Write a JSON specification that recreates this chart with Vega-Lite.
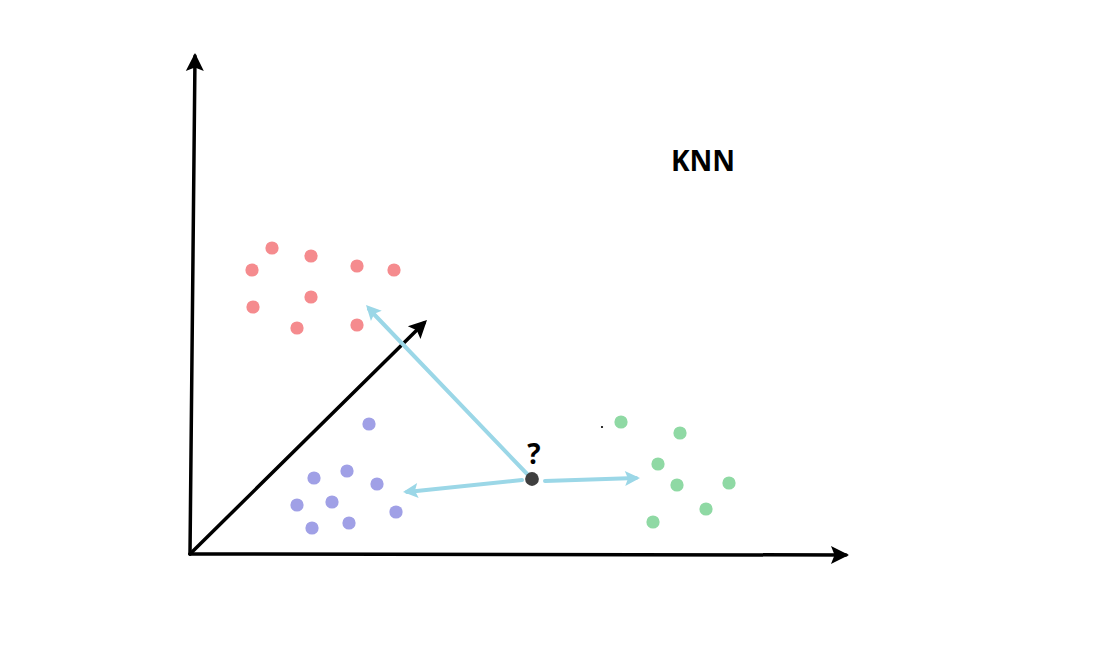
{
  "$schema": "https://vega.github.io/schema/vega-lite/v6.json",
  "width": 1099,
  "height": 666,
  "autosize": {"type": "fit", "contains": "padding"},
  "padding": 0,
  "background": "white",
  "config": {"view": {"stroke": null}, "font": "Open Sans"},
  "resolve": {"scale": {"size": "independent", "strokeWidth": "independent"}},
  "datasets": {
    "segments": [
      {"x": 190, "y": 554, "x2": 195, "y2": 56, "kind": "axis"},
      {"x": 190, "y": 554, "x2": 846, "y2": 555, "kind": "axis"},
      {"x": 190, "y": 554, "x2": 424, "y2": 323, "kind": "axis"},
      {"x": 530, "y": 477, "x2": 369, "y2": 309, "kind": "distance"},
      {"x": 522, "y": 480, "x2": 407, "y2": 492, "kind": "distance"},
      {"x": 545, "y": 481, "x2": 636, "y2": 478, "kind": "distance"}
    ],
    "heads": [
      {"x": 195, "y": 53, "angle": 0.6, "kind": "axis"},
      {"x": 849, "y": 555, "angle": 90.1, "kind": "axis"},
      {"x": 427, "y": 320, "angle": 45.4, "kind": "axis"},
      {"x": 366, "y": 305, "angle": -43.7, "kind": "distance"},
      {"x": 403, "y": 492, "angle": -95.8, "kind": "distance"},
      {"x": 640, "y": 478, "angle": 88.2, "kind": "distance"}
    ],
    "points": [
      {"x": 272, "y": 248, "group": "A"},
      {"x": 311, "y": 256, "group": "A"},
      {"x": 252, "y": 270, "group": "A"},
      {"x": 357, "y": 266, "group": "A"},
      {"x": 394, "y": 270, "group": "A"},
      {"x": 253, "y": 307, "group": "A"},
      {"x": 311, "y": 297, "group": "A"},
      {"x": 297, "y": 328, "group": "A"},
      {"x": 357, "y": 325, "group": "A"},
      {"x": 369, "y": 424, "group": "B"},
      {"x": 314, "y": 478, "group": "B"},
      {"x": 347, "y": 471, "group": "B"},
      {"x": 377, "y": 484, "group": "B"},
      {"x": 297, "y": 505, "group": "B"},
      {"x": 332, "y": 502, "group": "B"},
      {"x": 396, "y": 512, "group": "B"},
      {"x": 312, "y": 528, "group": "B"},
      {"x": 349, "y": 523, "group": "B"},
      {"x": 621, "y": 422, "group": "C"},
      {"x": 680, "y": 433, "group": "C"},
      {"x": 658, "y": 464, "group": "C"},
      {"x": 677, "y": 485, "group": "C"},
      {"x": 729, "y": 483, "group": "C"},
      {"x": 706, "y": 509, "group": "C"},
      {"x": 653, "y": 522, "group": "C"}
    ],
    "labels": [
      {"x": 703, "y": 163, "text": "KNN", "size": 28},
      {"x": 534, "y": 456, "text": "?", "size": 28}
    ]
  },
  "layer": [
    {
      "data": {"name": "segments"},
      "mark": {"type": "rule", "strokeCap": "round"},
      "encoding": {
        "x": {"field": "x", "type": "quantitative", "scale": {"domain": [0, 1099], "nice": false, "zero": false}, "axis": null},
        "y": {"field": "y", "type": "quantitative", "scale": {"domain": [0, 666], "nice": false, "zero": false, "reverse": true}, "axis": null},
        "x2": {"field": "x2"},
        "y2": {"field": "y2"},
        "color": {"field": "kind", "type": "nominal", "scale": {"domain": ["axis", "distance"], "range": ["#000000", "#9bd7e7"]}, "legend": null},
        "strokeWidth": {"field": "kind", "type": "nominal", "scale": {"domain": ["axis", "distance"], "range": [3.5, 4]}, "legend": null}
      }
    },
    {
      "data": {"name": "heads"},
      "mark": {"type": "point", "filled": true, "opacity": 1, "shape": "M0,0L0.5,1L0,0.8L-0.5,1Z"},
      "encoding": {
        "x": {"field": "x", "type": "quantitative"},
        "y": {"field": "y", "type": "quantitative"},
        "angle": {"field": "angle", "type": "quantitative", "scale": null},
        "color": {"field": "kind", "type": "nominal", "scale": {"domain": ["axis", "distance"], "range": ["#000000", "#9bd7e7"]}, "legend": null},
        "size": {"field": "kind", "type": "nominal", "scale": {"domain": ["axis", "distance"], "range": [1300, 900]}, "legend": null}
      }
    },
    {
      "data": {"values": [{"x": 602, "y": 427}]},
      "mark": {"type": "circle", "color": "#000000", "size": 5, "opacity": 1},
      "encoding": {
        "x": {"field": "x", "type": "quantitative"},
        "y": {"field": "y", "type": "quantitative"}
      }
    },
    {
      "data": {"name": "points"},
      "mark": {"type": "circle", "opacity": 1, "size": 175},
      "encoding": {
        "x": {"field": "x", "type": "quantitative"},
        "y": {"field": "y", "type": "quantitative"},
        "fill": {"field": "group", "type": "nominal", "scale": {"domain": ["A", "B", "C"], "range": ["#f58b8e", "#a0a0e6", "#8fd9a4"]}, "legend": null}
      }
    },
    {
      "data": {"values": [{"x": 532, "y": 479}]},
      "mark": {"type": "circle", "opacity": 1, "size": 190, "fill": "#3f3f3f"},
      "encoding": {
        "x": {"field": "x", "type": "quantitative"},
        "y": {"field": "y", "type": "quantitative"}
      }
    },
    {
      "data": {"name": "labels"},
      "mark": {"type": "text", "fontWeight": "bold", "align": "center", "baseline": "middle", "color": "#000000"},
      "encoding": {
        "x": {"field": "x", "type": "quantitative"},
        "y": {"field": "y", "type": "quantitative"},
        "text": {"field": "text"},
        "size": {"field": "size", "type": "quantitative", "scale": null}
      }
    }
  ]
}
